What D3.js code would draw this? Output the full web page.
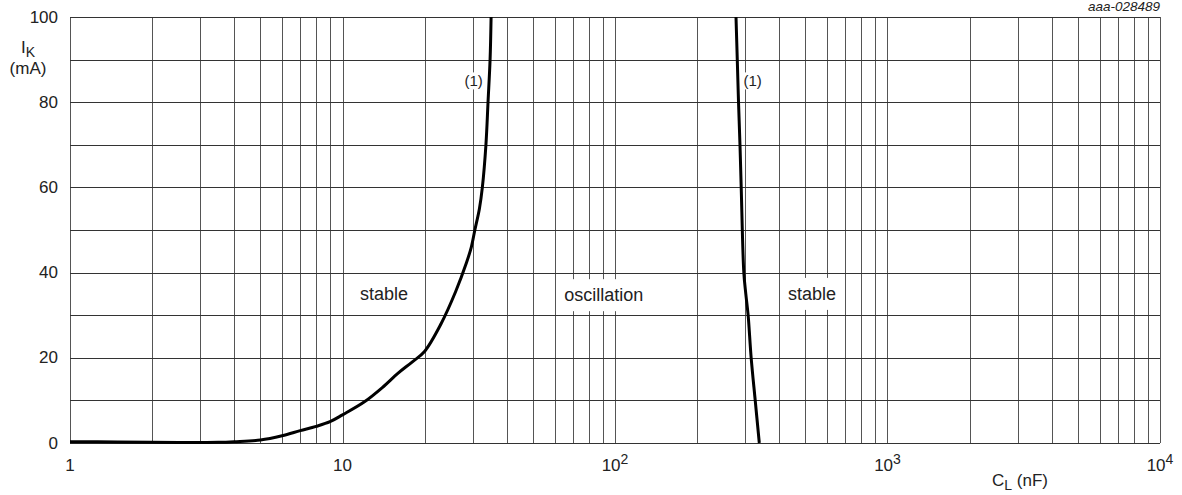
<!DOCTYPE html>
<html><head><meta charset="utf-8">
<script src="https://cdn.jsdelivr.net/npm/d3@7"></script>
<style>body{margin:0;background:#fff}svg{display:block}text{font-family:"Liberation Sans",Arial,sans-serif;fill:#222}</style>
</head><body>
<svg id="c" width="1182" height="495"></svg>
<script>
// Data
const xTickValues = [1, 10, 100, 1000, 10000];
const xTickLabels = [["1",""],["10",""],["10","2"],["10","3"],["10","4"]];
const yTickValues = [0, 20, 40, 60, 80, 100];
const leftCurveCL = [1,1.5,2,2.5,3,3.5,4,5,6,7,8,9,10,12,14,16,18,20,23,26,28.5,29.7,30.6,31.8,32.6,33.6,34.2,34.8,35.1];
const leftCurveIK = [0.3,0.25,0.15,0.1,0.1,0.15,0.3,0.7,1.7,2.9,3.9,5.0,6.6,9.6,13,16.4,19,21.5,28,35.5,42.3,46,50,55,60,70,80,90,100];
const rightCurveCL = [338.5,327,316,308,302,297,290.5,287.5,284,281,278];
const rightCurveIK = [0,10,20,30,35,40,60,70,80,90,100];
const regionLabels = ["stable","oscillation","stable"];
const regionCL = [14.2, 91, 528];
const regionIK = [35, 34.7, 35];
const noteLabels = ["(1)","(1)"];
const noteCL = [30.3, 320];
const noteIK = [85, 85];

const svg = d3.select("#c");
const L=70, R=1160, T=17, B=443;
const x = d3.scaleLog().domain([1,10000]).range([L,R]);
const y = d3.scaleLinear().domain([0,100]).range([B,T]);

// grid
const vgrid=[];
for(let d=1; d<10000; d*=10) for(let k=1;k<10;k++) vgrid.push(d*k);
vgrid.push(10000);
const g = svg.append("g");
g.selectAll("line.v").data(vgrid).join("line")
  .attr("x1",d=>Math.round(x(d))+0.5).attr("x2",d=>Math.round(x(d))+0.5)
  .attr("y1",T).attr("y2",B).attr("stroke","#555").attr("stroke-width",1);
g.selectAll("line.h").data(d3.range(0,101,10)).join("line")
  .attr("y1",d=>Math.round(y(d))+0.5).attr("y2",d=>Math.round(y(d))+0.5)
  .attr("x1",L).attr("x2",R).attr("stroke","#333").attr("stroke-width",1);

// label boxes
function boxedText(txt, cx, cy, size, px, py){
  const t = svg.append("text").attr("x",cx).attr("y",cy).attr("text-anchor","middle")
    .attr("dominant-baseline","central").style("font-size",size+"px").text(txt);
  const bb = t.node().getBBox();
  svg.insert("rect", function(){return t.node();})
    .attr("x",bb.x-px).attr("y",bb.y-py).attr("width",bb.width+2*px).attr("height",bb.height+2*py).attr("fill","#fff");
}
regionLabels.forEach((s,i)=>boxedText(s, x(regionCL[i]), y(regionIK[i]), 18, 7, 6));
noteLabels.forEach((s,i)=>boxedText(s, x(noteCL[i]), y(noteIK[i]), 15, 2, 0));

// curves
const line = d3.line().x(d=>x(d[0])).y(d=>y(d[1])).curve(d3.curveCatmullRom.alpha(0.5));
svg.append("path").datum(leftCurveCL.map((c,i)=>[c,leftCurveIK[i]]))
  .attr("d",line).attr("fill","none").attr("stroke","#000").attr("stroke-width",3);
svg.append("path").datum(rightCurveCL.map((c,i)=>[c,rightCurveIK[i]]))
  .attr("d",line).attr("fill","none").attr("stroke","#000").attr("stroke-width",3);

// y ticks
svg.selectAll("text.yt").data(yTickValues).join("text").attr("class","yt")
  .attr("x",58).attr("y",d=>y(d)).attr("text-anchor","end").attr("dominant-baseline","central")
  .style("font-size","17px").text(d=>d);

// x ticks
xTickValues.forEach((v,i)=>{
  const t = svg.append("text").attr("x",x(v)).attr("y",471).attr("text-anchor","middle").style("font-size","17px");
  t.append("tspan").text(xTickLabels[i][0]);
  if(xTickLabels[i][1]) t.append("tspan").attr("dy",-7).style("font-size","14px").text(xTickLabels[i][1]);
});

// axis titles
const yl = svg.append("text").attr("x",21).attr("y",53).style("font-size","17px");
yl.append("tspan").text("I");
yl.append("tspan").attr("dy",4).style("font-size","14px").text("K");
svg.append("text").attr("x",28).attr("y",74).attr("text-anchor","middle").style("font-size","17px").text("(mA)");
const xl = svg.append("text").attr("x",992).attr("y",486).style("font-size","17px");
xl.append("tspan").text("C");
xl.append("tspan").attr("dy",4).style("font-size","14px").text("L");
xl.append("tspan").attr("dy",-4).text(" (nF)");

svg.append("text").attr("x",1160).attr("y",11).attr("text-anchor","end")
  .style("font-size","13.5px").style("font-style","italic").text("aaa-028489");
</script>
</body></html>
